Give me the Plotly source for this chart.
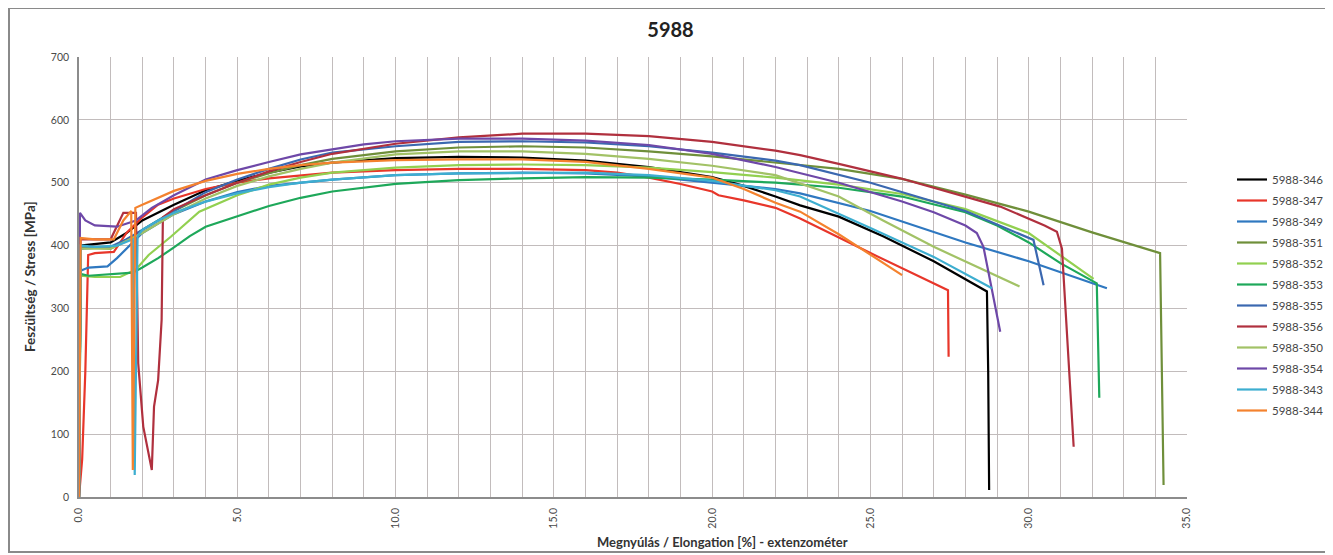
import plotly.graph_objects as go

# ---------------- data ----------------
series_names = ["5988-346", "5988-347", "5988-349", "5988-351", "5988-352", "5988-353",
                "5988-355", "5988-356", "5988-350", "5988-354", "5988-343", "5988-344"]
series_colors = ["#000000", "#E8362A", "#2F78C0", "#6F8F3A", "#92D050", "#1EA85A",
                 "#3B68B0", "#B0303E", "#A2C266", "#6E48A8", "#3DAED0", "#F4822E"]

x_346 = [0, 0.05, 1.0, 1.5, 2.0, 3.0, 4.0, 5.0, 6.0, 7.0, 8.0, 10.0, 12.0, 14.0, 16.0, 18.0, 20.0, 21.0, 22.0, 22.78, 24.0, 25.4, 27.0, 28.68, 28.72, 28.75]
y_346 = [0, 400, 405, 420, 440, 465, 488, 503, 516, 526, 532, 539, 541, 540, 535, 525, 509, 495, 478, 464, 446, 415, 375, 327, 200, 11]

x_347 = [0, 0.1, 0.2, 0.29, 0.5, 1.1, 1.5, 2.0, 2.5, 3.0, 4.0, 5.0, 6.0, 7.0, 8.0, 10.0, 12.0, 14.0, 16.0, 17.0, 18.0, 19.0, 20.0, 20.2, 21.0, 22.0, 22.78, 25.0, 27.45, 27.47]
y_347 = [0, 60, 200, 385, 388, 390, 420, 445, 465, 475, 490, 500, 507, 512, 516, 520, 522, 522, 520, 516, 508, 498, 486, 480, 472, 460, 443, 388, 329, 223]

x_349 = [0, 0.05, 0.3, 0.9, 1.2, 1.5, 2.0, 2.5, 3.0, 4.0, 5.0, 6.0, 8.0, 10.0, 12.0, 14.0, 16.0, 18.0, 20.0, 22.0, 22.78, 25.0, 28.0, 30.0, 32.47]
y_349 = [0, 360, 365, 367, 380, 395, 420, 435, 450, 470, 485, 495, 505, 512, 515, 516, 515, 510, 500, 490, 483, 455, 405, 375, 332]

x_351 = [0, 0.05, 1.0, 1.4, 2.0, 3.0, 4.0, 5.0, 6.0, 7.0, 8.0, 10.0, 12.0, 14.0, 16.0, 18.0, 20.0, 22.0, 24.0, 26.0, 28.0, 30.0, 32.0, 34.15, 34.26]
y_351 = [0, 398, 395, 405, 425, 455, 480, 500, 515, 528, 538, 550, 556, 558, 556, 550, 542, 532, 522, 506, 481, 454, 421, 388, 19]

x_352 = [0, 0.05, 0.5, 1.3, 1.8, 2.2, 2.9, 3.8, 5.0, 6.0, 7.0, 8.0, 10.0, 12.0, 14.0, 16.0, 18.0, 20.0, 22.0, 24.0, 26.0, 28.0, 30.0, 32.05]
y_352 = [0, 352, 350, 350, 362, 385, 414, 454, 480, 497, 508, 516, 524, 528, 529, 528, 524, 517, 508, 497, 482, 458, 420, 347]

x_353 = [0, 0.05, 0.3, 1.0, 1.7, 2.0, 2.5, 3.0, 3.5, 4.0, 5.0, 6.0, 7.0, 8.0, 10.0, 12.0, 14.0, 16.0, 18.0, 20.0, 22.0, 24.0, 26.0, 28.0, 29.0, 30.0, 31.0, 32.15, 32.23]
y_353 = [0, 355, 352, 355, 357, 365, 380, 397, 415, 430, 447, 463, 476, 486, 498, 504, 507, 509, 508, 505, 500, 492, 478, 453, 432, 405, 372, 340, 158]

x_355 = [0, 0.05, 1.0, 1.5, 2.0, 2.5, 3.0, 4.0, 5.0, 6.0, 7.0, 8.0, 10.0, 12.0, 14.0, 16.0, 18.0, 20.0, 22.0, 22.78, 25.0, 28.0, 30.15, 30.47]
y_355 = [0, 395, 398, 410, 425, 440, 455, 485, 505, 522, 537, 548, 558, 565, 566, 564, 558, 548, 535, 528, 500, 455, 409, 337]

x_356 = [0, 0.05, 1.0, 1.2, 1.4, 1.8, 1.87, 2.03, 2.3, 2.37, 2.5, 2.61, 2.65, 3.0, 4.0, 5.0, 6.0, 7.0, 8.0, 10.0, 12.0, 14.0, 16.0, 18.0, 20.0, 22.0, 22.78, 24.0, 25.94, 29.1, 30.5, 30.89, 31.05, 31.42]
y_356 = [0, 410, 410, 430, 452, 452, 213, 112, 43, 144, 186, 282, 445, 458, 480, 500, 518, 533, 546, 562, 572, 578, 578, 574, 565, 551, 544, 530, 507, 462, 432, 422, 395, 80]

x_350 = [0, 0.05, 1.0, 1.4, 2.0, 2.5, 3.0, 4.0, 5.0, 6.0, 7.0, 8.0, 10.0, 12.0, 14.0, 16.0, 18.0, 20.0, 22.0, 24.0, 25.4, 27.0, 29.71]
y_350 = [0, 395, 395, 405, 420, 435, 450, 475, 495, 510, 522, 532, 545, 550, 550, 546, 538, 527, 512, 478, 440, 398, 335]

x_354 = [0, 0.03, 0.2, 0.5, 1.2, 1.5, 1.8, 2.3, 3.0, 4.0, 5.0, 6.0, 7.0, 8.0, 9.0, 10.0, 12.0, 14.0, 16.0, 18.0, 20.0, 22.0, 24.0, 26.0, 27.0, 28.0, 28.36, 28.57, 29.1]
y_354 = [0, 452, 440, 432, 430, 435, 440, 460, 480, 505, 520, 533, 545, 553, 561, 566, 570, 570, 567, 560, 546, 525, 500, 470, 453, 432, 420, 398, 263]

x_343 = [0, 0.05, 0.5, 1.2, 1.7, 1.76, 1.85, 2.0, 2.5, 3.0, 4.0, 5.0, 6.0, 7.0, 8.0, 10.0, 12.0, 14.0, 16.0, 18.0, 20.0, 22.0, 22.78, 25.0, 27.0, 28.84]
y_343 = [0, 400, 398, 400, 410, 35, 415, 425, 440, 452, 470, 483, 493, 500, 505, 512, 515, 516, 516, 512, 503, 488, 478, 428, 382, 332]

x_344 = [0, 0.05, 0.5, 1.1, 1.4, 1.65, 1.7, 1.78, 2.0, 2.5, 3.0, 4.0, 5.0, 6.0, 7.0, 8.0, 10.0, 12.0, 14.0, 16.0, 18.0, 20.0, 21.0, 22.0, 22.78, 24.0, 26.0]
y_344 = [0, 412, 410, 410, 440, 455, 43, 460, 465, 476, 487, 503, 514, 522, 528, 532, 536, 537, 537, 533, 522, 508, 490, 468, 454, 418, 353]

series_x = [x_346, x_347, x_349, x_351, x_352, x_353, x_355, x_356, x_350, x_354, x_343, x_344]
series_y = [y_346, y_347, y_349, y_351, y_352, y_353, y_355, y_356, y_350, y_354, y_343, y_344]

x_grid = list(range(0, 36))          # vertical gridlines every 1 %
x_labelled = [0, 5, 10, 15, 20, 25, 30, 35]
y_ticks = [0, 100, 200, 300, 400, 500, 600, 700]

chart_title = "5988"
x_title = "Megnyúlás / Elongation [%] - extenzométer"
y_title = "Feszültség / Stress [MPa]"

# ---------------- figure ----------------
# the page body has an 8 px margin, so the figure is drawn 8 px smaller/offset
W, H = 1325, 547
PL, PT, PR, PB = 71, 49, 1179, 489   # plot area in figure pixels
pw, ph = PR - PL, PB - PT

FONT = "Lato, Carlito, Calibri, 'Open Sans', sans-serif"
fig = go.Figure()
for name, color, xs, ys in zip(series_names, series_colors, series_x, series_y):
    fig.add_trace(go.Scatter(x=xs, y=ys, mode="lines", name=name, legendgroup=name,
                             line=dict(color=color, width=2.2)))

grid_color = "#C2BCBC"
fig.update_xaxes(range=[0, 35], tickvals=x_grid,
                 ticktext=[f"{v:.1f}" if v in x_labelled else "" for v in x_grid],
                 tickangle=-90, showgrid=True, gridcolor=grid_color, gridwidth=1.3, zeroline=False,
                 showline=True, linecolor="#8C8C8C", linewidth=1.5, mirror=False,
                 tickfont=dict(family=FONT, size=10.5, color="#4A4A4A"), ticks="",
                 ticklabelstandoff=5)
fig.update_yaxes(range=[0, 700], tickvals=y_ticks, showgrid=True, gridcolor=grid_color, gridwidth=1.3,
                 zeroline=False, showline=True, linecolor="#8C8C8C", linewidth=1.5,
                 tickfont=dict(family=FONT, size=10.5, color="#4A4A4A"), ticks="",
                 ticklabelstandoff=6)

fig.update_layout(
    width=W, height=H,
    margin=dict(l=PL, r=W - PR, t=PT, b=H - PB, autoexpand=False),
    paper_bgcolor="white", plot_bgcolor="white",
    title=dict(text="<b>" + chart_title + "</b>", x=0.5, xanchor="center", y=1 - 22 / H, yanchor="middle",
               font=dict(family=FONT, size=20, color="#222222")),
    legend=dict(x=(1232 - 8 - PL) / pw, xanchor="left", y=(PB - (165 - 8)) / ph, yanchor="top",
                font=dict(family=FONT, size=11.5, color="#454545"),
                bgcolor="rgba(0,0,0,0)", itemwidth=30, tracegroupgap=2),
    showlegend=True,
    annotations=[
        dict(text="<b>" + x_title + "</b>", xref="paper", yref="paper", x=(714 - PL) / pw, y=-(534 - PB) / ph,
             xanchor="center", yanchor="middle", showarrow=False,
             font=dict(family=FONT, size=13, color="#333333")),
        dict(text="<b>" + y_title + "</b>", xref="paper", yref="paper", x=-(PL - 22) / pw, y=0.5,
             xanchor="center", yanchor="middle", showarrow=False, textangle=-90,
             font=dict(family=FONT, size=13.5, color="#333333")),
    ],
    shapes=[dict(type="rect", xref="paper", yref="paper",
                 x0=-(PL - 1) / pw, x1=(1320 - PL) / pw, y0=-(544 - PB) / ph, y1=(PB - 0) / ph,
                 line=dict(color="#8A8A8A", width=2), fillcolor="rgba(0,0,0,0)", layer="below")],
)
fig.write_html("out.html")
